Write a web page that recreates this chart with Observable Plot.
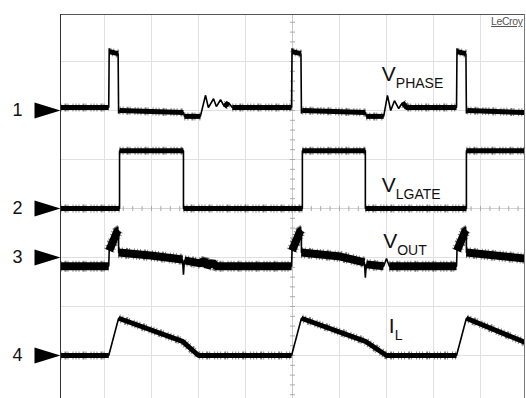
<!DOCTYPE html>
<html>
<head>
<meta charset="utf-8">
<script src="https://cdn.jsdelivr.net/npm/d3@7"></script>
<script src="https://cdn.jsdelivr.net/npm/@observablehq/plot@0.6"></script>
<style>
  html, body { margin: 0; padding: 0; background: #fff; }
  #chart svg { display: block; }
</style>
</head>
<body>
<div id="chart"></div>
<script>
// ---------- DATA (time and level in scope divisions) ----------
const channels = ["1", "2", "3", "4"];
const channelOffsets = [6, 4, 3, 1];

const gridTimes = [1, 2, 3, 4, 5, 6, 7, 8, 9];
const gridLevels = [1, 2, 3, 4, 5, 6, 7];
const centerTime = 5;
const centerLevel = 4;
const minorTimes = d3.range(0, 10.001, 0.2);
const minorLevels = d3.range(0, 8.001, 0.2);

// Channel 1: V_PHASE
const phaseT = [0, 1.09, 1.10, 1.11, 1.29, 1.30, 1.32, 2.68, 2.70, 3.04, 3.15, 3.21, 3.32, 3.38, 3.47, 3.55, 3.64, 3.72,
  4.98, 4.99, 5.00, 5.18, 5.19, 5.21, 6.55, 6.57, 6.94, 7.02, 7.09, 7.17, 7.26, 7.34, 7.43,
  8.49, 8.50, 8.51, 8.69, 8.70, 8.72, 9.94];
const phaseV = [6.06, 6.06, 7.27, 7.20, 7.16, 5.94, 6.00, 5.96, 5.88, 5.88, 6.31, 6.06, 6.24, 6.08, 6.22, 6.08, 6.16, 6.06,
  6.06, 7.27, 7.20, 7.16, 5.94, 6.00, 5.96, 5.88, 5.88, 6.31, 6.00, 6.20, 6.04, 6.16, 6.06,
  6.06, 7.27, 7.20, 7.16, 5.94, 6.00, 5.96];

// Channel 2: V_LGATE
const lgateT = [0, 1.32, 1.32, 2.68, 2.68, 5.21, 5.21, 6.55, 6.55, 8.70, 8.70, 9.94];
const lgateV = [4.0, 4.0, 5.18, 5.18, 4.0, 4.0, 5.18, 5.18, 4.0, 4.0, 5.18, 5.18];

// Channel 3: V_OUT
const outT = [0, 1.09, 1.10, 1.28, 1.30, 1.30, 1.98, 2.66, 2.68, 2.70, 3.04, 3.13, 3.19, 3.30, 3.38,
  4.98, 4.99, 5.17, 5.19, 5.19, 6.02, 6.53, 6.55, 6.57, 6.94, 7.00, 7.06,
  8.49, 8.50, 8.68, 8.70, 8.70, 9.94];
const outV = [2.82, 2.82, 3.14, 3.55, 3.55, 3.10, 3.04, 2.96, 2.65, 2.94, 2.88, 2.94, 2.82, 2.90, 2.82,
  2.82, 3.14, 3.55, 3.55, 3.10, 3.02, 2.90, 2.59, 2.86, 2.82, 2.98, 2.82,
  2.82, 3.14, 3.55, 3.55, 3.10, 2.98];

// Channel 4: I_L
const ilT = [0, 1.09, 1.30, 2.66, 3.00, 4.98, 5.19, 6.55, 7.00, 8.49, 8.70, 9.94];
const ilV = [1.0, 1.0, 1.76, 1.29, 1.0, 1.0, 1.76, 1.29, 1.0, 1.0, 1.76, 1.27];

// Trace labels
const labelMain = ["V", "V", "V", "I"];
const labelSub = ["PHASE", "LGATE", "OUT", "L"];
const labelT = [6.90, 6.90, 6.93, 7.05];
const labelV = [6.61, 4.33, 3.20, 1.45];

const logo = ["LeCroy"];

// ---------- STYLE ----------
const FONT = "'Liberation Sans', Arial, Helvetica, sans-serif";
const traceStyle = [
  {T: phaseT, V: phaseV, band: 5, slow: 1.2},
  {T: lgateT, V: lgateV, band: 5, slow: 1.2},
  {T: outT, V: outV, band: 8, slow: 2.5},
  {T: ilT, V: ilV, band: 5, slow: 1.2}
];

// Split a trace into its thin path and its noisy (slow) runs
function buildTrace(T, V, key, limit) {
  const pts = T.map((t, i) => ({t, v: V[i]}));
  const band = [];
  let run = null, id = 0;
  for (let i = 0; i < T.length - 1; i++) {
    const dt = T[i + 1] - T[i], dv = V[i + 1] - V[i];
    const slow = dt > 0 && Math.abs(dv / dt) < limit;
    if (slow) {
      if (run === null) { run = key + "-" + (id++); band.push({t: T[i], v: V[i], run}); }
      band.push({t: T[i + 1], v: V[i + 1], run});
    } else run = null;
  }
  return {pts, band};
}

const arrowSymbol = {
  draw(ctx) {
    ctx.moveTo(0, 0);
    ctx.lineTo(-26, -8);
    ctx.lineTo(-26, 8);
    ctx.closePath();
  }
};
const vTick = { draw(ctx) { ctx.moveTo(0, -2.5); ctx.lineTo(0, 2.5); } };
const hTick = { draw(ctx) { ctx.moveTo(-2.5, 0); ctx.lineTo(2.5, 0); } };

const marks = [
  Plot.gridX(gridTimes, {stroke: "#e0e0e0", strokeOpacity: 1}),
  Plot.gridY(gridLevels, {stroke: "#e0e0e0", strokeOpacity: 1}),
  Plot.ruleX([centerTime], {stroke: "#c8c8c8"}),
  Plot.ruleY([centerLevel], {stroke: "#d4d4d4"}),
  Plot.dot(minorTimes, {x: d => d, y: () => centerLevel, symbol: vTick, fill: "none", stroke: "#aaa", strokeWidth: 1, clip: true}),
  Plot.dot(minorLevels, {y: d => d, x: () => centerTime, symbol: hTick, fill: "none", stroke: "#aaa", strokeWidth: 1, clip: true})
];

traceStyle.forEach((s, k) => {
  const {pts, band} = buildTrace(s.T, s.V, "c" + k, s.slow);
  marks.push(
    Plot.line(band, {x: "t", y: "v", z: "run", stroke: "#000", strokeOpacity: 0.5, strokeWidth: s.band + 3,
      strokeDasharray: "1,2,1,3,2,1,1,4,1,2", strokeLinecap: "butt", strokeLinejoin: "miter", clip: true}),
    Plot.line(band, {x: "t", y: "v", z: "run", stroke: "#000", strokeWidth: s.band, strokeLinecap: "butt",
      strokeLinejoin: "miter", clip: true}),
    Plot.line(pts, {x: "t", y: "v", stroke: "#000", strokeWidth: 1.6, strokeLinejoin: "miter", clip: true})
  );
});

marks.push(
  Plot.frame({anchor: "top", stroke: "#555"}),
  Plot.frame({anchor: "left", stroke: "#333"}),
  Plot.frame({anchor: "right", stroke: "#777"}),
  Plot.dot(channelOffsets, {y: d => d, frameAnchor: "left", symbol: arrowSymbol, fill: "#000", stroke: "none"}),
  Plot.text(channels, {y: (d, i) => channelOffsets[i], frameAnchor: "left", dx: -43, text: d => d,
    fontSize: 18, fontFamily: FONT, fill: "#111", textAnchor: "middle", lineAnchor: "middle"}),
  Plot.text(labelMain, {x: (d, i) => labelT[i], y: (d, i) => labelV[i], text: d => d,
    fontSize: 21, fontFamily: FONT, fill: "#111", textAnchor: "start", lineAnchor: "bottom"}),
  Plot.text(logo, {frameAnchor: "top-right", dx: -2, dy: 3, text: d => d,
    fontSize: 10.5, fontFamily: FONT, fill: "#555", textAnchor: "end", lineAnchor: "top"})
);

const chart = Plot.plot({
  width: 526,
  height: 398,
  marginLeft: 60,
  marginRight: 2,
  marginTop: 14,
  marginBottom: 0,
  style: {background: "#fff", fontFamily: FONT, overflow: "visible"},
  x: {domain: [0, 10], range: [57, 527], axis: null},
  y: {domain: [0, 8], range: [404, 12], axis: null},
  marks
});

document.getElementById("chart").append(chart);

// subscripts as real text tspans
const NS = "http://www.w3.org/2000/svg";
const allTexts = Array.from(chart.querySelectorAll("text"));
const labelTexts = allTexts.filter(t => labelMain.includes(t.textContent));
labelTexts.forEach((t, i) => {
  const main = t.textContent;
  while (t.firstChild) t.removeChild(t.firstChild);
  const a = document.createElementNS(NS, "tspan");
  a.textContent = main;
  const b = document.createElementNS(NS, "tspan");
  b.textContent = labelSub[i];
  b.setAttribute("font-size", "14");
  b.setAttribute("dy", "7");
  t.appendChild(a);
  t.appendChild(b);
});
allTexts.filter(t => t.textContent === logo[0]).forEach(t => {
  t.setAttribute("text-decoration", "underline");
  t.setAttribute("letter-spacing", "-0.4");
});
</script>
</body>
</html>
